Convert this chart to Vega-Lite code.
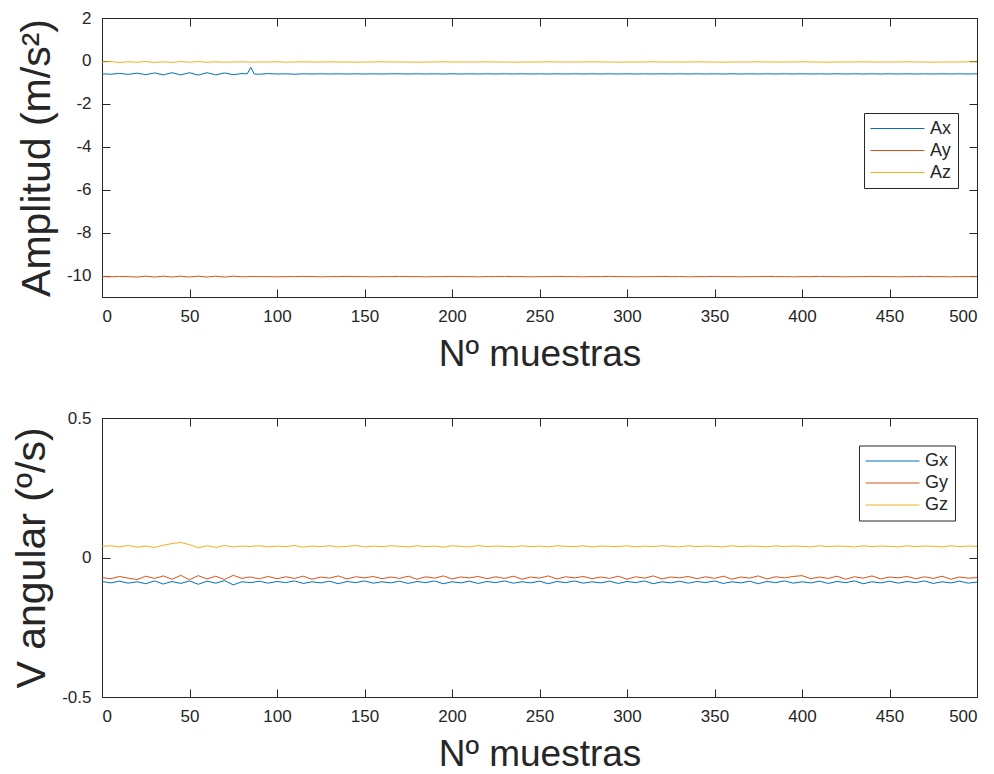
{
"$schema": "https://vega.github.io/schema/vega-lite/v6.json",
"background": "white",
"padding": {"left": 11, "top": 8, "right": 5, "bottom": 0},
"bounds": "flush",
"spacing": 121,
"config": {
  "font": "Liberation Sans",
  "view": {"stroke": "#262626", "strokeWidth": 1},
  "axis": {"grid": false, "domainColor": "#262626", "tickColor": "#262626", "labelColor": "#262626", "titleColor": "#262626", "labelFont": "Liberation Sans", "titleFont": "Liberation Sans", "labelFontSize": 17, "titleFontWeight": "normal", "tickSize": -8, "labelPadding": 19},
  "axisX": {"titlePadding": 12, "titleFontSize": 37},
  "axisY": {"titlePadding": 8, "titleFontSize": 41},
  "legend": {"orient": "none", "title": null, "symbolType": "M-1,0H5", "symbolSize": 324, "symbolStrokeWidth": 1, "labelOffset": 41, "labelFontSize": 18, "labelFont": "Liberation Sans", "labelColor": "#262626", "strokeColor": "#262626", "fillColor": "white", "padding": 6, "rowPadding": 3}
},
"datasets": {"d": [
{"n":0,"Ax":-0.60,"Ay":-10.05,"Az":-0.05,"Gx":-0.086,"Gy":-0.072,"Gz":0.040},
{"n":5,"Ax":-0.62,"Ay":-10.06,"Az":-0.03,"Gx":-0.091,"Gy":-0.076,"Gz":0.042},
{"n":10,"Ax":-0.58,"Ay":-10.04,"Az":-0.07,"Gx":-0.085,"Gy":-0.068,"Gz":0.038},
{"n":15,"Ax":-0.63,"Ay":-10.05,"Az":-0.04,"Gx":-0.092,"Gy":-0.074,"Gz":0.043},
{"n":20,"Ax":-0.57,"Ay":-10.07,"Az":-0.06,"Gx":-0.087,"Gy":-0.079,"Gz":0.037},
{"n":25,"Ax":-0.64,"Ay":-10.03,"Az":-0.03,"Gx":-0.094,"Gy":-0.067,"Gz":0.041},
{"n":30,"Ax":-0.56,"Ay":-10.07,"Az":-0.07,"Gx":-0.084,"Gy":-0.075,"Gz":0.036},
{"n":35,"Ax":-0.65,"Ay":-10.03,"Az":-0.04,"Gx":-0.095,"Gy":-0.066,"Gz":0.044},
{"n":40,"Ax":-0.55,"Ay":-10.07,"Az":-0.07,"Gx":-0.086,"Gy":-0.078,"Gz":0.050},
{"n":45,"Ax":-0.65,"Ay":-10.03,"Az":-0.03,"Gx":-0.093,"Gy":-0.064,"Gz":0.054},
{"n":50,"Ax":-0.55,"Ay":-10.07,"Az":-0.06,"Gx":-0.084,"Gy":-0.080,"Gz":0.046},
{"n":55,"Ax":-0.66,"Ay":-10.03,"Az":-0.03,"Gx":-0.096,"Gy":-0.065,"Gz":0.035},
{"n":60,"Ax":-0.55,"Ay":-10.07,"Az":-0.06,"Gx":-0.085,"Gy":-0.077,"Gz":0.042},
{"n":65,"Ax":-0.65,"Ay":-10.03,"Az":-0.04,"Gx":-0.092,"Gy":-0.067,"Gz":0.036},
{"n":70,"Ax":-0.56,"Ay":-10.07,"Az":-0.06,"Gx":-0.083,"Gy":-0.079,"Gz":0.043},
{"n":75,"Ax":-0.64,"Ay":-10.03,"Az":-0.05,"Gx":-0.098,"Gy":-0.064,"Gz":0.038},
{"n":80,"Ax":-0.59,"Ay":-10.06,"Az":-0.04,"Gx":-0.087,"Gy":-0.075,"Gz":0.041},
{"n":83,"Ax":-0.60,"Ay":-10.05,"Az":-0.05,"Gx":-0.089,"Gy":-0.071,"Gz":0.040},
{"n":85,"Ax":-0.30,"Ay":-10.04,"Az":-0.06,"Gx":-0.090,"Gy":-0.070,"Gz":0.039},
{"n":87,"Ax":-0.61,"Ay":-10.05,"Az":-0.05,"Gx":-0.088,"Gy":-0.073,"Gz":0.041},
{"n":90,"Ax":-0.62,"Ay":-10.05,"Az":-0.05,"Gx":-0.085,"Gy":-0.076,"Gz":0.042},
{"n":95,"Ax":-0.59,"Ay":-10.05,"Az":-0.05,"Gx":-0.092,"Gy":-0.068,"Gz":0.038},
{"n":100,"Ax":-0.61,"Ay":-10.06,"Az":-0.04,"Gx":-0.086,"Gy":-0.076,"Gz":0.041},
{"n":105,"Ax":-0.60,"Ay":-10.05,"Az":-0.06,"Gx":-0.090,"Gy":-0.069,"Gz":0.039},
{"n":110,"Ax":-0.62,"Ay":-10.05,"Az":-0.05,"Gx":-0.084,"Gy":-0.075,"Gz":0.043},
{"n":115,"Ax":-0.60,"Ay":-10.04,"Az":-0.04,"Gx":-0.093,"Gy":-0.067,"Gz":0.037},
{"n":120,"Ax":-0.61,"Ay":-10.05,"Az":-0.05,"Gx":-0.087,"Gy":-0.078,"Gz":0.041},
{"n":125,"Ax":-0.60,"Ay":-10.06,"Az":-0.05,"Gx":-0.091,"Gy":-0.070,"Gz":0.039},
{"n":130,"Ax":-0.61,"Ay":-10.05,"Az":-0.04,"Gx":-0.085,"Gy":-0.074,"Gz":0.042},
{"n":135,"Ax":-0.60,"Ay":-10.05,"Az":-0.05,"Gx":-0.094,"Gy":-0.066,"Gz":0.038},
{"n":140,"Ax":-0.61,"Ay":-10.04,"Az":-0.05,"Gx":-0.086,"Gy":-0.077,"Gz":0.040},
{"n":145,"Ax":-0.60,"Ay":-10.05,"Az":-0.06,"Gx":-0.090,"Gy":-0.069,"Gz":0.043},
{"n":150,"Ax":-0.61,"Ay":-10.05,"Az":-0.05,"Gx":-0.084,"Gy":-0.073,"Gz":0.038},
{"n":155,"Ax":-0.60,"Ay":-10.06,"Az":-0.05,"Gx":-0.092,"Gy":-0.068,"Gz":0.041},
{"n":160,"Ax":-0.61,"Ay":-10.05,"Az":-0.04,"Gx":-0.087,"Gy":-0.076,"Gz":0.039},
{"n":165,"Ax":-0.60,"Ay":-10.05,"Az":-0.05,"Gx":-0.091,"Gy":-0.070,"Gz":0.042},
{"n":170,"Ax":-0.60,"Ay":-10.04,"Az":-0.05,"Gx":-0.085,"Gy":-0.075,"Gz":0.040},
{"n":175,"Ax":-0.61,"Ay":-10.05,"Az":-0.05,"Gx":-0.093,"Gy":-0.067,"Gz":0.038},
{"n":180,"Ax":-0.60,"Ay":-10.05,"Az":-0.06,"Gx":-0.086,"Gy":-0.078,"Gz":0.042},
{"n":185,"Ax":-0.61,"Ay":-10.06,"Az":-0.05,"Gx":-0.090,"Gy":-0.069,"Gz":0.039},
{"n":190,"Ax":-0.60,"Ay":-10.05,"Az":-0.05,"Gx":-0.084,"Gy":-0.074,"Gz":0.041},
{"n":195,"Ax":-0.61,"Ay":-10.05,"Az":-0.04,"Gx":-0.094,"Gy":-0.066,"Gz":0.037},
{"n":200,"Ax":-0.60,"Ay":-10.04,"Az":-0.05,"Gx":-0.087,"Gy":-0.077,"Gz":0.042},
{"n":205,"Ax":-0.61,"Ay":-10.05,"Az":-0.05,"Gx":-0.091,"Gy":-0.070,"Gz":0.040},
{"n":210,"Ax":-0.60,"Ay":-10.05,"Az":-0.05,"Gx":-0.085,"Gy":-0.073,"Gz":0.038},
{"n":215,"Ax":-0.61,"Ay":-10.06,"Az":-0.05,"Gx":-0.093,"Gy":-0.068,"Gz":0.043},
{"n":220,"Ax":-0.60,"Ay":-10.05,"Az":-0.04,"Gx":-0.086,"Gy":-0.076,"Gz":0.039},
{"n":225,"Ax":-0.61,"Ay":-10.05,"Az":-0.05,"Gx":-0.090,"Gy":-0.069,"Gz":0.041},
{"n":230,"Ax":-0.60,"Ay":-10.04,"Az":-0.05,"Gx":-0.084,"Gy":-0.075,"Gz":0.040},
{"n":235,"Ax":-0.61,"Ay":-10.05,"Az":-0.06,"Gx":-0.092,"Gy":-0.067,"Gz":0.038},
{"n":240,"Ax":-0.60,"Ay":-10.05,"Az":-0.05,"Gx":-0.087,"Gy":-0.078,"Gz":0.042},
{"n":245,"Ax":-0.61,"Ay":-10.06,"Az":-0.05,"Gx":-0.091,"Gy":-0.070,"Gz":0.039},
{"n":250,"Ax":-0.60,"Ay":-10.05,"Az":-0.05,"Gx":-0.085,"Gy":-0.074,"Gz":0.041},
{"n":255,"Ax":-0.61,"Ay":-10.05,"Az":-0.04,"Gx":-0.094,"Gy":-0.066,"Gz":0.038},
{"n":260,"Ax":-0.60,"Ay":-10.04,"Az":-0.05,"Gx":-0.086,"Gy":-0.077,"Gz":0.042},
{"n":265,"Ax":-0.61,"Ay":-10.05,"Az":-0.05,"Gx":-0.090,"Gy":-0.069,"Gz":0.040},
{"n":270,"Ax":-0.60,"Ay":-10.05,"Az":-0.05,"Gx":-0.084,"Gy":-0.073,"Gz":0.039},
{"n":275,"Ax":-0.61,"Ay":-10.06,"Az":-0.05,"Gx":-0.092,"Gy":-0.068,"Gz":0.042},
{"n":280,"Ax":-0.60,"Ay":-10.05,"Az":-0.04,"Gx":-0.087,"Gy":-0.076,"Gz":0.038},
{"n":285,"Ax":-0.61,"Ay":-10.05,"Az":-0.05,"Gx":-0.091,"Gy":-0.070,"Gz":0.041},
{"n":290,"Ax":-0.60,"Ay":-10.04,"Az":-0.05,"Gx":-0.085,"Gy":-0.075,"Gz":0.040},
{"n":295,"Ax":-0.61,"Ay":-10.05,"Az":-0.06,"Gx":-0.093,"Gy":-0.067,"Gz":0.039},
{"n":300,"Ax":-0.60,"Ay":-10.05,"Az":-0.05,"Gx":-0.086,"Gy":-0.078,"Gz":0.042},
{"n":305,"Ax":-0.61,"Ay":-10.06,"Az":-0.05,"Gx":-0.090,"Gy":-0.069,"Gz":0.038},
{"n":310,"Ax":-0.60,"Ay":-10.05,"Az":-0.05,"Gx":-0.084,"Gy":-0.074,"Gz":0.041},
{"n":315,"Ax":-0.61,"Ay":-10.05,"Az":-0.04,"Gx":-0.094,"Gy":-0.066,"Gz":0.039},
{"n":320,"Ax":-0.60,"Ay":-10.04,"Az":-0.05,"Gx":-0.087,"Gy":-0.077,"Gz":0.042},
{"n":325,"Ax":-0.61,"Ay":-10.05,"Az":-0.05,"Gx":-0.091,"Gy":-0.070,"Gz":0.040},
{"n":330,"Ax":-0.60,"Ay":-10.05,"Az":-0.05,"Gx":-0.085,"Gy":-0.073,"Gz":0.038},
{"n":335,"Ax":-0.61,"Ay":-10.06,"Az":-0.05,"Gx":-0.092,"Gy":-0.068,"Gz":0.042},
{"n":340,"Ax":-0.60,"Ay":-10.05,"Az":-0.04,"Gx":-0.086,"Gy":-0.076,"Gz":0.039},
{"n":345,"Ax":-0.61,"Ay":-10.05,"Az":-0.05,"Gx":-0.090,"Gy":-0.069,"Gz":0.041},
{"n":350,"Ax":-0.60,"Ay":-10.04,"Az":-0.05,"Gx":-0.084,"Gy":-0.075,"Gz":0.040},
{"n":355,"Ax":-0.61,"Ay":-10.05,"Az":-0.06,"Gx":-0.093,"Gy":-0.067,"Gz":0.038},
{"n":360,"Ax":-0.60,"Ay":-10.05,"Az":-0.05,"Gx":-0.087,"Gy":-0.078,"Gz":0.042},
{"n":365,"Ax":-0.61,"Ay":-10.06,"Az":-0.05,"Gx":-0.091,"Gy":-0.070,"Gz":0.039},
{"n":370,"Ax":-0.60,"Ay":-10.05,"Az":-0.05,"Gx":-0.085,"Gy":-0.074,"Gz":0.041},
{"n":375,"Ax":-0.61,"Ay":-10.05,"Az":-0.04,"Gx":-0.094,"Gy":-0.066,"Gz":0.040},
{"n":380,"Ax":-0.60,"Ay":-10.04,"Az":-0.05,"Gx":-0.086,"Gy":-0.077,"Gz":0.038},
{"n":385,"Ax":-0.61,"Ay":-10.05,"Az":-0.05,"Gx":-0.090,"Gy":-0.069,"Gz":0.042},
{"n":390,"Ax":-0.60,"Ay":-10.05,"Az":-0.05,"Gx":-0.084,"Gy":-0.073,"Gz":0.039},
{"n":395,"Ax":-0.61,"Ay":-10.06,"Az":-0.05,"Gx":-0.092,"Gy":-0.068,"Gz":0.041},
{"n":400,"Ax":-0.60,"Ay":-10.05,"Az":-0.04,"Gx":-0.087,"Gy":-0.065,"Gz":0.040},
{"n":405,"Ax":-0.61,"Ay":-10.05,"Az":-0.05,"Gx":-0.091,"Gy":-0.076,"Gz":0.038},
{"n":410,"Ax":-0.60,"Ay":-10.04,"Az":-0.05,"Gx":-0.085,"Gy":-0.070,"Gz":0.042},
{"n":415,"Ax":-0.61,"Ay":-10.05,"Az":-0.06,"Gx":-0.093,"Gy":-0.075,"Gz":0.039},
{"n":420,"Ax":-0.60,"Ay":-10.05,"Az":-0.05,"Gx":-0.086,"Gy":-0.067,"Gz":0.041},
{"n":425,"Ax":-0.61,"Ay":-10.06,"Az":-0.05,"Gx":-0.090,"Gy":-0.078,"Gz":0.040},
{"n":430,"Ax":-0.60,"Ay":-10.05,"Az":-0.05,"Gx":-0.084,"Gy":-0.069,"Gz":0.038},
{"n":435,"Ax":-0.61,"Ay":-10.05,"Az":-0.04,"Gx":-0.094,"Gy":-0.074,"Gz":0.042},
{"n":440,"Ax":-0.60,"Ay":-10.04,"Az":-0.05,"Gx":-0.087,"Gy":-0.066,"Gz":0.039},
{"n":445,"Ax":-0.61,"Ay":-10.05,"Az":-0.05,"Gx":-0.091,"Gy":-0.077,"Gz":0.041},
{"n":450,"Ax":-0.60,"Ay":-10.05,"Az":-0.05,"Gx":-0.085,"Gy":-0.070,"Gz":0.040},
{"n":455,"Ax":-0.61,"Ay":-10.06,"Az":-0.05,"Gx":-0.092,"Gy":-0.073,"Gz":0.038},
{"n":460,"Ax":-0.60,"Ay":-10.05,"Az":-0.04,"Gx":-0.086,"Gy":-0.068,"Gz":0.042},
{"n":465,"Ax":-0.61,"Ay":-10.05,"Az":-0.05,"Gx":-0.090,"Gy":-0.076,"Gz":0.039},
{"n":470,"Ax":-0.60,"Ay":-10.04,"Az":-0.05,"Gx":-0.084,"Gy":-0.069,"Gz":0.041},
{"n":475,"Ax":-0.61,"Ay":-10.05,"Az":-0.06,"Gx":-0.093,"Gy":-0.075,"Gz":0.040},
{"n":480,"Ax":-0.60,"Ay":-10.05,"Az":-0.05,"Gx":-0.087,"Gy":-0.067,"Gz":0.038},
{"n":485,"Ax":-0.61,"Ay":-10.06,"Az":-0.05,"Gx":-0.091,"Gy":-0.078,"Gz":0.042},
{"n":490,"Ax":-0.60,"Ay":-10.05,"Az":-0.05,"Gx":-0.085,"Gy":-0.070,"Gz":0.039},
{"n":495,"Ax":-0.61,"Ay":-10.05,"Az":-0.04,"Gx":-0.092,"Gy":-0.074,"Gz":0.041},
{"n":500,"Ax":-0.60,"Ay":-10.05,"Az":-0.05,"Gx":-0.088,"Gy":-0.072,"Gz":0.040}
]},
"resolve": {"scale": {"color": "independent"}, "legend": {"color": "independent"}},
"vconcat": [
{
  "width": 875, "height": 279,
  "data": {"name": "d"},
  "transform": [{"fold": ["Ax", "Ay", "Az"], "as": ["serie", "valor"]}],
  "layer": [
    {"mark": {"type": "line", "strokeWidth": 1},
     "encoding": {
       "x": {"field": "n", "type": "quantitative", "scale": {"domain": [0, 500], "nice": false}, "axis": {"orient": "bottom", "values": [0,50,100,150,200,250,300,350,400,450,500], "title": "Nº muestras"}},
       "y": {"field": "valor", "type": "quantitative", "scale": {"domain": [-11, 2], "nice": false, "zero": false}, "axis": {"orient": "left", "values": [-10,-8,-6,-4,-2,0,2], "title": "Amplitud (m/s²)", "labelExpr": "'' + datum.value"}},
       "color": {"field": "serie", "type": "nominal", "scale": {"domain": ["Ax", "Ay", "Az"], "range": ["#0072BD", "#D95319", "#EDB120"]}, "legend": {"legendX": 762, "legendY": 95}}
     }},
    {"mark": {"type": "point", "opacity": 0},
     "encoding": {
       "x": {"field": "n", "type": "quantitative", "axis": {"orient": "top", "values": [0,50,100,150,200,250,300,350,400,450,500], "labels": false, "title": null}},
       "y": {"field": "valor", "type": "quantitative", "axis": {"orient": "right", "values": [-10,-8,-6,-4,-2,0,2], "labels": false, "title": null}}
     }}
  ],
  "resolve": {"axis": {"x": "independent", "y": "independent"}}
},
{
  "width": 875, "height": 279,
  "data": {"name": "d"},
  "transform": [{"fold": ["Gx", "Gy", "Gz"], "as": ["serie", "valor"]}],
  "layer": [
    {"mark": {"type": "line", "strokeWidth": 1},
     "encoding": {
       "x": {"field": "n", "type": "quantitative", "scale": {"domain": [0, 500], "nice": false}, "axis": {"orient": "bottom", "values": [0,50,100,150,200,250,300,350,400,450,500], "title": "Nº muestras"}},
       "y": {"field": "valor", "type": "quantitative", "scale": {"domain": [-0.5, 0.5], "nice": false, "zero": false}, "axis": {"orient": "left", "values": [-0.5, 0, 0.5], "title": "V angular (º/s)", "labelExpr": "'' + datum.value"}},
       "color": {"field": "serie", "type": "nominal", "scale": {"domain": ["Gx", "Gy", "Gz"], "range": ["#0072BD", "#D95319", "#EDB120"]}, "legend": {"legendX": 757, "legendY": 27.5}}
     }},
    {"mark": {"type": "point", "opacity": 0},
     "encoding": {
       "x": {"field": "n", "type": "quantitative", "axis": {"orient": "top", "values": [0,50,100,150,200,250,300,350,400,450,500], "labels": false, "title": null}},
       "y": {"field": "valor", "type": "quantitative", "axis": {"orient": "right", "values": [-0.5, 0, 0.5], "labels": false, "title": null}}
     }}
  ],
  "resolve": {"axis": {"x": "independent", "y": "independent"}}
}
]
}
